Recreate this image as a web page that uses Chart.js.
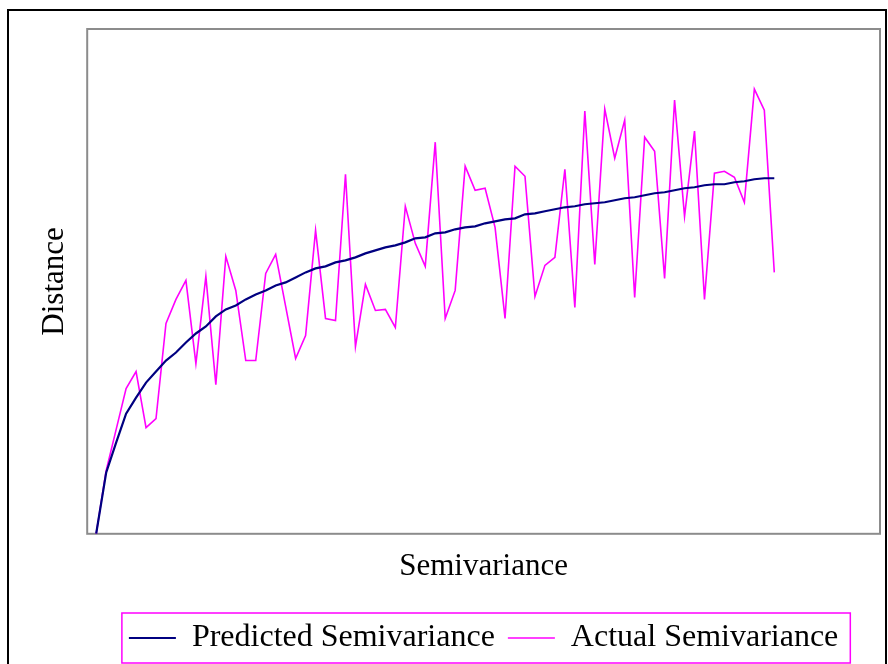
<!DOCTYPE html>
<html>
<head>
<meta charset="utf-8">
<script src="https://cdn.jsdelivr.net/npm/chart.js@4.4.0/dist/chart.umd.min.js"></script>
<style>
  html, body { margin: 0; padding: 0; background: #fff; }
  #chartArea { width: 888px; height: 664px; }
</style>
</head>
<body>
<div id="chartArea"><canvas id="myChart" width="888" height="664"></canvas></div>
<script>
// lag index (x positions of the points)
const lags = [1, 2, 3, 4, 5, 6, 7, 8, 9, 10, 11, 12, 13, 14, 15, 16, 17, 18, 19, 20,
  21, 22, 23, 24, 25, 26, 27, 28, 29, 30, 31, 32, 33, 34, 35, 36, 37, 38, 39, 40,
  41, 42, 43, 44, 45, 46, 47, 48, 49, 50, 51, 52, 53, 54, 55, 56, 57, 58, 59, 60,
  61, 62, 63, 64, 65, 66, 67, 68, 69];

// fitted curve
const predicted = [0, 61, 91, 120, 136, 151, 162, 173, 181, 191, 200, 207, 217, 224, 228, 234,
  239, 243, 248, 251, 256, 261, 265, 267, 271, 273, 276, 280, 283, 286, 288, 291, 295, 296,
  300, 301, 304, 306, 307, 310, 312, 314, 315, 319, 320, 322, 324, 326, 327, 329, 330, 331,
  333, 335, 336, 338, 340, 341, 343, 345, 346, 348, 349, 349, 351, 352, 354, 355, 355];

// measured values
const actual = [0, 63, 104, 145, 162, 106, 115, 210, 234, 253, 170, 257, 149, 277, 243, 173,
  173, 260, 279, 227, 175, 198, 303, 215, 213, 359, 187, 249, 223, 224, 206, 327, 290, 267,
  391, 215, 243, 367, 343, 345, 306, 215, 367, 357, 237, 268, 276, 364, 226, 422, 269, 424,
  375, 413, 236, 396, 382, 255, 433, 317, 402, 234, 360, 362, 356, 331, 444, 423, 261];

const seriesNames = ["Predicted Semivariance", "Actual Semivariance"];
const FONT = "'Liberation Serif', 'Times New Roman', serif";

// 枠線の描画
const frames = {
  id: "frames",
  beforeDraw(chart) {
    const c = chart.ctx;
    const a = chart.chartArea;
    c.save();
    c.fillStyle = "#fff";
    c.fillRect(0, 0, chart.width, chart.height);
    c.strokeStyle = "#000";
    c.lineWidth = 2;
    c.strokeRect(8, 10, 878, 700);
    c.strokeStyle = "#8c8c8c";
    c.lineWidth = 2;
    c.strokeRect(a.left, a.top, a.right - a.left, a.bottom - a.top);
    c.restore();
  },
  afterDraw(chart) {
    const boxes = chart.legend.legendHitBoxes;
    if (!boxes || !boxes.length) return;
    const first = boxes[0];
    const last = boxes[boxes.length - 1];
    const cy = first.top + first.height / 2;
    const c = chart.ctx;
    c.save();
    c.strokeStyle = "#ff00ff";
    c.lineWidth = 1.5;
    c.strokeRect(first.left - 7, cy - 25, last.left + last.width + 12 - (first.left - 7), 50);
    c.restore();
  }
};

const ctx = document.getElementById("myChart").getContext("2d");
window.myChart = new Chart(ctx, {
  type: "line",
  data: {
    datasets: [
      {
        label: seriesNames[0],
        data: lags.map((x, i) => ({ x: x, y: predicted[i] })),
        borderColor: "#000080",
        backgroundColor: "#000080",
        borderWidth: 2.2,
        pointRadius: 0,
        tension: 0,
      },
      {
        label: seriesNames[1],
        data: lags.map((x, i) => ({ x: x, y: actual[i] })),
        borderColor: "#ff00ff",
        backgroundColor: "#ff00ff",
        borderWidth: 1.6,
        pointRadius: 0,
        tension: 0,
      },
    ],
  },
  options: {
    responsive: false,
    animation: false,
    events: [],
    layout: { padding: { left: 36, top: 29, right: 8, bottom: 0 } },
    scales: {
      x: {
        type: "linear",
        min: 0.1,
        max: 79.6,
        grid: { display: false, drawTicks: false },
        border: { display: false },
        ticks: { display: false },
        title: {
          display: true,
          text: "Semivariance",
          color: "#000",
          font: { family: FONT, size: 31 },
          padding: { top: 14, bottom: 24 },
        },
      },
      y: {
        min: 0,
        max: 504,
        grid: { display: false, drawTicks: false },
        border: { display: false },
        ticks: { display: false },
        title: {
          display: true,
          text: "Distance",
          color: "#000",
          font: { family: FONT, size: 31 },
          padding: { top: 0, bottom: 14 },
        },
      },
    },
    plugins: {
      legend: {
        position: "bottom",
        fullSize: false,
        labels: {
          color: "#000",
          font: { family: FONT, size: 32 },
          boxHeight: 31,
          usePointStyle: true,
          pointStyle: "line",
          pointStyleWidth: 47,
          padding: 13,
        },
      },
      tooltip: { enabled: false },
    },
  },
  plugins: [frames],
});
</script>
</body>
</html>
